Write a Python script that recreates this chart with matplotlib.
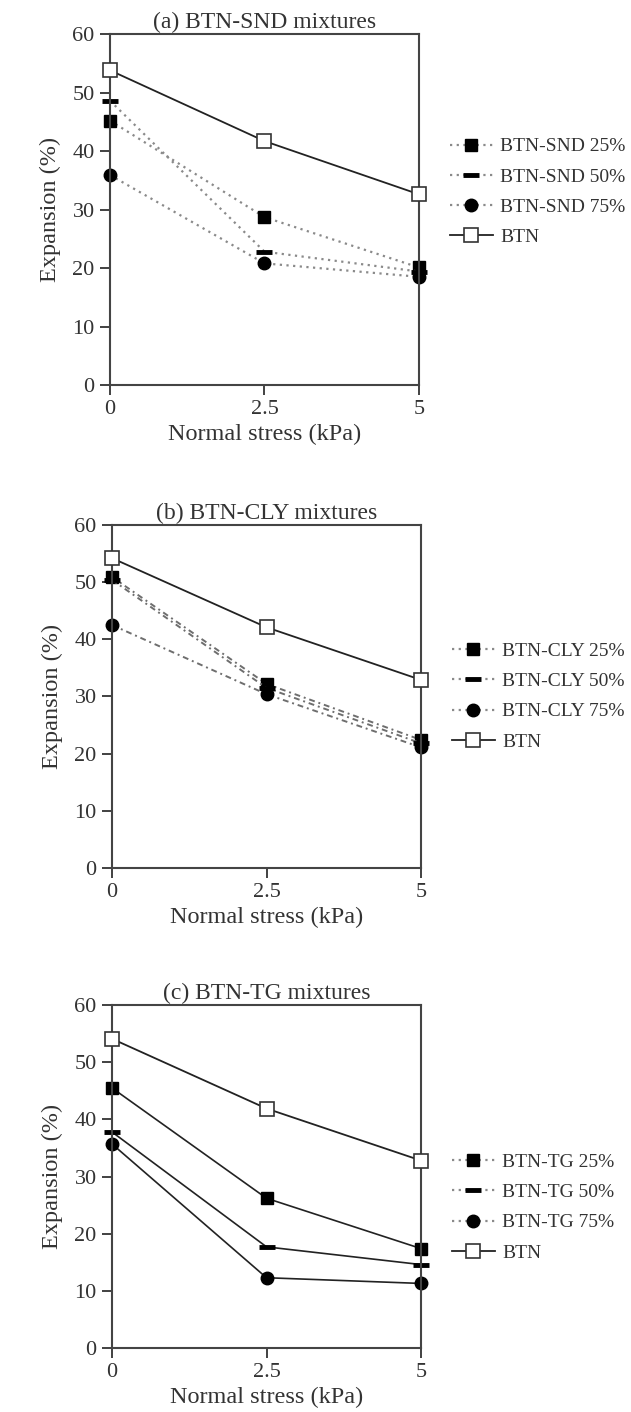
import matplotlib
matplotlib.use("Agg")
import matplotlib.pyplot as plt
from matplotlib.lines import Line2D

plt.rcParams['font.family'] = ['Liberation Serif', 'DejaVu Serif']
plt.rcParams['text.color'] = '#333333'
plt.rcParams['axes.labelcolor'] = '#333333'
plt.rcParams['xtick.color'] = '#333333'
plt.rcParams['ytick.color'] = '#333333'

stress = [0, 2.5, 5]
btn = {
    'a': [53.8, 41.7, 32.6],
    'b': [54.2, 42.1, 32.9],
    'c': [54.1, 41.9, 32.8],
}

snd_25 = [45.2, 28.7, 20.1]
snd_50 = [48.6, 22.8, 19.4]
snd_75 = [35.9, 20.8, 18.5]

cly_25 = [50.9, 32.2, 22.4]
cly_50 = [50.4, 31.5, 21.8]
cly_75 = [42.5, 30.4, 21.1]

tg_25 = [45.5, 26.2, 17.4]
tg_50 = [37.8, 17.7, 14.6]
tg_75 = [35.7, 12.3, 11.3]

panels = [
    ('(a) BTN-SND mixtures', 'BTN-SND', [snd_25, snd_50, snd_75], btn['a'],
     dict(color='#8a8a8a', ls=(0, (1, 2)), lw=1.6), 0.55),
    ('(b) BTN-CLY mixtures', 'BTN-CLY', [cly_25, cly_50, cly_75], btn['b'],
     dict(color='#6e6e6e', ls=(0, (3, 2, 1, 2)), lw=1.4), 0.50),
    ('(c) BTN-TG mixtures', 'BTN-TG', [tg_25, tg_50, tg_75], btn['c'],
     dict(color='#222222', ls='-', lw=1.2), 0.41),
]
pcts = ['25%', '50%', '75%']
markers = [dict(marker='s', ms=9, mfc='black', mec='black'),
           dict(marker='_', ms=11, mew=3.5, mec='black'),
           dict(marker='o', ms=9, mfc='black', mec='black')]

fig = plt.figure(figsize=(6.31, 14.12), dpi=100)
rects = [
    [0.1743, 0.7273, 0.4897, 0.2486],
    [0.1775, 0.3853, 0.4897, 0.2429],
    [0.1775, 0.0453, 0.4897, 0.2429],
]

for rect, (title, name, series, base, lstyle, leg_y) in zip(rects, panels):
    ax = fig.add_axes(rect)
    handles = []
    for vals, mk, p in zip(series, markers, pcts):
        ax.plot(stress, vals, zorder=2, clip_on=False, **lstyle, **mk)
        handles.append(Line2D([], [], color='#8a8a8a', ls=(0, (1, 2)), lw=1.6,
                              label=f'{name} {p}', **mk))
    ax.plot(stress, base, color='#222222', lw=1.3, marker='s', ms=10,
            mfc='white', mec='#333333', mew=1.2, zorder=3, clip_on=False)
    handles.append(Line2D([], [], color='#222222', lw=1.3, marker='s', ms=10,
                          mfc='white', mec='#333333', mew=1.2, label='BTN'))

    ax.set_xlim(0, 5)
    ax.set_ylim(0, 60)
    ax.set_xticks(stress)
    ax.set_xticklabels(['0', '2.5', '5'])
    ax.set_yticks(range(0, 61, 10))
    ax.tick_params(direction='out', length=7, width=1.3, labelsize=16, pad=4)
    for s in ax.spines.values():
        s.set_linewidth(1.5)
        s.set_color('#444444')
    ax.set_title(title, fontsize=17, pad=4)
    ax.set_xlabel('Normal stress (kPa)', fontsize=17.5, labelpad=3)
    ax.set_ylabel('Expansion (%)', fontsize=17.5, labelpad=8)
    ax.legend(handles=handles, loc='center left', bbox_to_anchor=(1.10, leg_y),
              frameon=False, fontsize=14, handlelength=2.2, handletextpad=0.4,
              labelspacing=0.65, borderpad=0, borderaxespad=0)

fig.savefig('out.png', dpi=100)
